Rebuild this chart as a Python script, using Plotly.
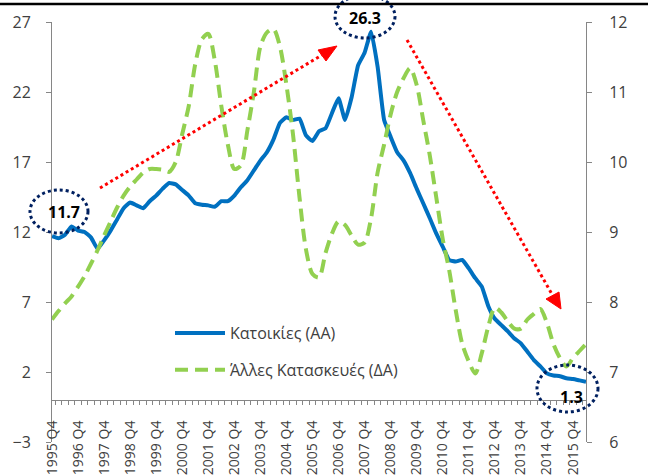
import plotly.graph_objects as go

# quarters 1995 Q4 .. 2016 Q2
quarters = []
for k in range(83):
    q = 4 + k
    year = 1995 + (q - 1) // 4
    quarters.append(f"{year} Q{(q - 1) % 4 + 1}")

housing = [
    11.7, 11.55, 11.8, 12.4, 12.1, 12.0, 11.6, 10.8, 11.4, 12.1,
    12.9, 13.7, 14.1, 13.9, 13.7, 14.2, 14.6, 15.1, 15.5, 15.4,
    15.0, 14.6, 14.05, 13.95, 13.9, 13.8, 14.2, 14.2, 14.6, 15.2,
    15.7, 16.4, 17.1, 17.7, 18.6, 19.8, 20.2, 20.0, 20.1, 18.9,
    18.5, 19.2, 19.4, 20.5, 21.55, 20.0, 21.6, 23.9, 24.8, 26.3,
    23.8, 20.0, 18.8, 17.7, 17.1, 16.2, 15.1, 14.05, 13.0, 11.9,
    10.95, 10.0, 9.9, 10.0, 9.4, 8.7, 8.1, 6.7, 5.8, 5.35,
    4.9, 4.4, 4.05, 3.45, 2.85, 2.4, 1.9, 1.75, 1.7, 1.55,
    1.5, 1.4, 1.3,
]

other = [
    7.75, 7.87, 7.98, 8.08, 8.22, 8.37, 8.55, 8.74, 8.95, 9.15,
    9.35, 9.52, 9.65, 9.75, 9.85, 9.9, 9.9, 9.89, 9.86, 10.0,
    10.4, 10.8, 11.4, 11.75, 11.83, 11.45, 10.8, 10.25, 9.9, 9.95,
    10.45, 11.0, 11.65, 11.85, 11.9, 11.65, 11.1, 10.4, 9.5, 8.75,
    8.4, 8.35, 8.7, 8.98, 9.15, 9.1, 8.95, 8.82, 8.85, 9.2,
    9.85, 10.25, 10.68, 11.0, 11.2, 11.34, 11.1, 10.6, 10.1, 9.5,
    8.9, 8.45, 7.88, 7.4, 7.15, 6.98, 7.27, 7.65, 7.92, 7.85,
    7.72, 7.62, 7.62, 7.75, 7.83, 7.9, 7.7, 7.4, 7.2, 7.08,
    7.2, 7.3, 7.4,
]

tick_text = [q if q.endswith("Q4") else "" for q in quarters]

FONT = "Open Sans"
GREY = "#404040"
AXIS = "#868686"

fig = go.Figure()
fig.add_trace(
    go.Scatter(
        x=quarters,
        y=housing,
        name="Κατοικίες (ΑΑ)",
        mode="lines",
        line=dict(color="#0070C0", width=4, shape="spline", smoothing=0.4),
        legendgroup="a",
    )
)
fig.add_trace(
    go.Scatter(
        x=quarters,
        y=other,
        name="Άλλες Κατασκευές (ΔΑ)",
        mode="lines",
        yaxis="y2",
        line=dict(color="#92D050", width=4, dash="13px,7px", shape="spline", smoothing=0.8),
        legendgroup="b",
    )
)


# helpers for decorations placed in pixel terms of the 648x475 canvas
L, R, T, B = 52, 586, 22, 442


def px(x, y):
    return (x - L) / (R - L), (B - y) / (B - T)


def ellipse(x0, y0, x1, y1):
    a = px(x0, y1)
    b = px(x1, y0)
    return dict(
        type="circle", xref="paper", yref="paper",
        x0=a[0], y0=a[1], x1=b[0], y1=b[1],
        line=dict(color="#002060", width=3, dash="dot"),
    )


def dotted(x0, y0, x1, y1):
    a = px(x0, y0)
    b = px(x1, y1)
    return dict(
        type="line", xref="paper", yref="paper",
        x0=a[0], y0=a[1], x1=b[0], y1=b[1],
        line=dict(color="#FF0000", width=3, dash="dot"),
    )


def tri(p1, p2, p3):
    pts = [px(*p) for p in (p1, p2, p3)]
    path = "M {} {} L {} {} L {} {} Z".format(*[c for p in pts for c in p])
    return dict(
        type="path", xref="paper", yref="paper", path=path,
        fillcolor="#FF0000", line=dict(color="#FF0000", width=1),
    )


shapes = [
    dotted(100, 188, 322, 55),
    tri((318, 50), (326, 61), (337, 46)),
    dotted(407, 40, 553, 296),
    tri((546, 299), (559, 292), (561, 309)),
    ellipse(30, 190, 88, 233),
    ellipse(335, -5, 395, 38),
    ellipse(537, 365, 598, 412),
]
a, b = px(0, 4), px(648, 4)
shapes.append(dict(type="line", xref="paper", yref="paper", x0=a[0], y0=a[1],
                   x1=b[0], y1=b[1], line=dict(color="black", width=2.5)))

annotations = []
for label, (cx, cy) in [("11.7", (64, 212)), ("26.3", (365, 18)), ("1.3", (571, 397))]:
    ax_, ay_ = px(cx, cy)
    annotations.append(dict(
        text=f"<b>{label}</b>", x=ax_, y=ay_, xref="paper", yref="paper",
        xanchor="center", yanchor="middle",
        showarrow=False, font=dict(family=FONT, size=16, color="black"),
    ))

fig.update_layout(
    width=648,
    height=475,
    margin=dict(l=L, r=648 - R, t=T, b=475 - B, autoexpand=False),
    paper_bgcolor="white",
    plot_bgcolor="white",
    font=dict(family=FONT, color=GREY),
    showlegend=True,
    legend=dict(
        x=px(170, 0)[0], y=px(0, 316)[1], xanchor="left", yanchor="top",
        bgcolor="rgba(0,0,0,0)", font=dict(size=16, color=GREY),
        itemwidth=50, traceorder="grouped", tracegroupgap=13,
    ),
    xaxis=dict(
        type="category",
        anchor="free",
        position=0.1,
        automargin=False,
        showline=True,
        linecolor=AXIS,
        ticks="outside",
        ticklen=4,
        tickcolor=AXIS,
        tickson="boundaries",
        tickmode="array",
        tickvals=quarters,
        ticktext=tick_text,
        tickangle=-90,
        ticklabelstandoff=14,
        tickfont=dict(size=14, color=GREY),
        showgrid=False,
        zeroline=False,
    ),
    yaxis=dict(
        range=[-3, 27],
        automargin=False,
        tickmode="linear",
        tick0=-3,
        dtick=5,
        showline=True,
        linecolor=AXIS,
        ticks="outside",
        ticklen=5,
        tickcolor=AXIS,
        ticklabelstandoff=12,
        tickfont=dict(size=16, color=GREY),
        showgrid=False,
        zeroline=False,
    ),
    yaxis2=dict(
        range=[6, 12],
        automargin=False,
        overlaying="y",
        side="right",
        tickmode="linear",
        tick0=6,
        dtick=1,
        showline=True,
        linecolor=AXIS,
        ticks="outside",
        ticklen=5,
        tickcolor=AXIS,
        ticklabelstandoff=14,
        tickfont=dict(size=16, color=GREY),
        showgrid=False,
        zeroline=False,
    ),
    shapes=shapes,
    annotations=annotations,
)

fig.write_html(
    "out.html",
    config={"displayModeBar": False},
    post_script="document.body.style.margin='0';",
)
